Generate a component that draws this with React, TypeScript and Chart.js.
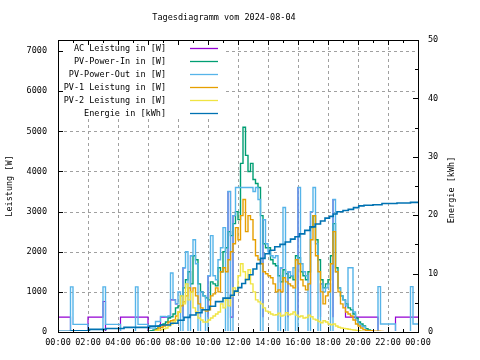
import { useEffect, useRef } from 'react';
import { Chart, registerables } from 'chart.js';

Chart.register(...registerables);

// ---------- texts ----------
const titleText = 'Tagesdiagramm vom 2024-08-04';
const leftAxisTitle = 'Leistung [W]';
const rightAxisTitle = 'Energie [kWh]';
const seriesLabels = [
  'AC Leistung in [W]',
  'PV-Power-In in [W]',
  'PV-Power-Out in [W]',
  'PV-1 Leistung in [W]',
  'PV-2 Leistung in [W]',
  'Energie in [kWh]',
];
const seriesColors = ['#9400d3', '#009e73', '#56b4e9', '#e69f00', '#f0e442', '#0072b2'];
const xTickLabels = [
  '00:00', '02:00', '04:00', '06:00', '08:00', '10:00', '12:00',
  '14:00', '16:00', '18:00', '20:00', '22:00', '00:00',
];
const xTickHours = [0, 2, 4, 6, 8, 10, 12, 14, 16, 18, 20, 22, 24];
const yTickValues = [0, 1000, 2000, 3000, 4000, 5000, 6000, 7000];
const y2TickValues = [0, 10, 20, 30, 40, 50];

// ---------- data: one value per 10-minute slot, 00:00 .. 24:00 ----------
// (null = no visible sample for that slot)
const slotMinutes = 10;
const N = null;

const acPower = [
  370, 370, 370, 370, 370, 370,
  0, 0, 0, 0, 0, 0,
  0, 370, 370, 370, 370, 370,
  370, 760, 0, 0, 0, 0,
  0, 0, 370, 370, 370, 370,
  370, 370, 370, 370, 370, 370,
  370, 0, 0, 0, 0, 0,
  370, 370, 370, 370, 800, 800,
  700, N, 370, 1600, N, 370,
  1900, N, N, 370, 1000, N,
  370, 1400, N, N, N, N,
  N, N, 1800, 3500, 370, 2900,
  N, N, N, N, N, N,
  N, N, N, N, 370, 2800,
  N, N, N, N, N, 370,
  1600, N, 370, 1500, N, N,
  370, 3600, N, N, N, 370,
  3000, N, N, 370, 1200, N,
  N, N, 370, 3300, N, N,
  N, 800, 370, 370, 370, 370,
  370, 370, 370, 370, 370, 370,
  370, 370, 370, 0, 0, 0,
  0, 0, 0, 0, 370, 370,
  370, 370, 370, 370, 370, 370,
  370,
];

const pvPowerIn = [
  N, N, N, N, N, N,
  N, N, N, N, N, N,
  N, N, N, N, N, N,
  N, N, N, N, N, N,
  N, N, N, N, N, N,
  N, N, N, N, N, N,
  0, 20, 30, 50, 80, 150,
  180, 200, 250, 350, 380, 450,
  600, 650, 900, 1100, 1300, 1500,
  1200, 1900, 1800, 1200, 1000, 900,
  850, 800, 1250, 1200, 1150, 1600,
  1500, 2000, 2100, 2500, 2400, 2700,
  3000, 2800, 4200, 5100, 4400, 4000,
  4200, 3800, 3700, 3600, 2900, 2200,
  2100, 2100, 1800, 1700, 1650, 1400,
  1250, 1550, 1450, 1350, 1400, 1300,
  1900, 1850, 1500, 1400, 1300, 1500,
  2600, 2900, 2300, 1800, 1300, 1100,
  1200, 1300, 1900, 2700, 1600, 1100,
  900, 800, 700, 600, 550, 450,
  350, 250, 200, 150, 80, 50,
  30, 10, 0, 0, 0, 0,
  N, N, N, N, N, N,
  N, N, N, N, N, N,
  N,
];

const pvPowerOut = [
  0, 0, 0, 0, 0, 0,
  1125, 190, 190, 190, 190, 190,
  190, 0, 0, 0, 0, 0,
  0, 1125, 190, 190, 190, 190,
  190, 190, 0, 0, 0, 0,
  0, 0, 1125, 190, 190, 190,
  190, 100, 100, 100, 260, 260,
  390, 390, 380, 400, 1470, 800,
  700, 1000, 0, 1600, 2000, 0,
  1900, 2300, 1700, 0, 1000, 900,
  0, 1400, 2400, 1400, 1300, 1800,
  2100, 2600, 0, 3500, 0, 2900,
  3600, 3600, 3600, 3600, 3600, 3600,
  3600, 3500, 3600, 3300, 0, 2800,
  2200, 2000, 1900, 1850, 1900, 0,
  1600, 3100, 0, 1500, 1400, 1600,
  0, 3600, 1700, 1500, 1400, 0,
  3000, 3600, 2200, 0, 1200, 1000,
  1100, 1200, 0, 3300, 1500, 1100,
  900, 800, 650, 1600, 1600, 500,
  300, 200, 150, 130, 0, 0,
  0, 0, 0, 1130, 200, 200,
  200, 200, 200, 200, 0, 0,
  0, 0, 0, 0, 1130, 200,
  200,
];

const pv1Power = [
  N, N, N, N, N, N,
  N, N, N, N, N, N,
  N, N, N, N, N, N,
  N, N, N, N, N, N,
  N, N, N, N, N, N,
  N, N, N, N, N, N,
  0, 0, 0, 0, 50, 100,
  120, 150, 180, 250, 280, 300,
  400, 500, 650, 750, 900, 1100,
  1000, 1100, 900, 700, 600, 550,
  520, 550, 900, 950, 1100, 1000,
  1500, 1600, 1500, 1800, 2000, 2200,
  2600, 2300, 2900, 3300, 2500, 2900,
  2800, 2300, 1900, 1800, 1700, 1500,
  1450, 1400, 1350, 1200, 1000, 1050,
  1000, 1350, 1250, 1200, 1150, 1100,
  1800, 1700, 1300, 1150, 1050, 1200,
  2300, 2900, 1900, 1500, 1000, 700,
  900, 1000, 1700, 2500, 1500, 1000,
  700, 600, 500, 450, 400, 300,
  200, 150, 100, 60, 40, 30,
  30, 20, 20, 20, 15, 10,
  0, N, N, N, N, N,
  N, N, N, N, N, N,
  N,
];

const pv2Power = [
  N, N, N, N, N, N,
  N, N, N, N, N, N,
  N, N, N, N, N, N,
  N, N, N, N, N, N,
  N, N, N, N, N, N,
  N, N, N, N, N, N,
  0, 0, 0, 0, 30, 50,
  60, 80, 100, 150, 200, 250,
  300, 500, 900, 700, 1200, 800,
  1000, 600, 500, 350, 300, 250,
  250, 300, 350, 400, 450, 500,
  700, 600, 800, 650, 900, 1100,
  1000, 1400, 1700, 1500, 1300, 1550,
  1200, 1000, 800, 750, 700, 600,
  520, 500, 450, 420, 430, 470,
  400, 420, 480, 430, 450, 500,
  420, 380, 400, 350, 360, 420,
  380, 320, 300, 260, 230, 280,
  250, 200, 180, 200, 150, 120,
  100, 90, 80, 70, 60, 50,
  40, 30, 20, 10, 0, 0,
  0, N, N, N, N, N,
  N, N, N, N, N, N,
  N, N, N, N, N, N,
  N,
];

const energyHours = [
  0, 0.9, 2.1, 3.2, 4.4, 6.1, 6.8, 7.5, 8.0, 8.4, 8.8, 9.2, 9.6, 10.1, 10.5,
  11.0, 11.5, 11.75, 12.0, 12.25, 12.5, 12.75, 13.0, 13.25, 13.5, 13.8, 14.1,
  14.45, 14.8, 15.15, 15.5, 15.8, 16.1, 16.45, 16.8, 17.15, 17.5, 17.8, 18.1,
  18.35, 18.6, 19.0, 19.35, 19.7, 20.05, 20.4, 21.0, 21.6, 22.6, 23.5, 24,
];
const energyKWh = [
  0, 0.1, 0.2, 0.45, 0.6, 0.8, 1.0, 1.2, 1.5, 2.0, 2.5, 2.9, 3.3, 3.8, 4.4,
  5.2, 5.8, 6.3, 7.0, 7.6, 8.3, 9.0, 9.8, 10.8, 11.7, 12.6, 13.4,
  14.0, 14.6, 15.0, 15.4, 15.9, 16.3, 16.8, 17.4, 18.0, 18.5, 19.0, 19.5,
  19.8, 20.2, 20.6, 20.8, 21.0, 21.3, 21.6, 21.7, 21.8, 22.0, 22.1, 22.2,
];

const powerSeries = [acPower, pvPowerIn, pvPowerOut, pv1Power, pv2Power];

// ---------- styling ----------
const FONT_FAMILY = "'DejaVu Sans Mono', monospace";
const FONT_SIZE = 8.5;
const textFont = `${FONT_SIZE}px ${FONT_FAMILY}`;

const gnuplotDecor = {
  id: 'gnuplotDecor',
  beforeDatasetsDraw(chart: any) {
    const { ctx, chartArea: a, scales } = chart;
    const yS = scales.y;
    const xS = scales.x;
    ctx.save();
    ctx.strokeStyle = '#a0a0a0';
    ctx.lineWidth = 1;
    ctx.setLineDash([3, 3]);
    ctx.beginPath();
    yS.ticks.forEach((t: any) => {
      if (t.value <= 0) return;
      const py = Math.round(yS.getPixelForValue(t.value)) + 0.5;
      ctx.moveTo(a.left, py);
      ctx.lineTo(a.right, py);
    });
    xS.ticks.forEach((t: any) => {
      if (t.value <= 0 || t.value >= 24) return;
      const px = Math.round(xS.getPixelForValue(t.value)) + 0.5;
      ctx.moveTo(px, a.bottom);
      ctx.lineTo(px, a.top);
    });
    ctx.stroke();
    ctx.setLineDash([]);
    // opaque key box
    ctx.fillStyle = '#ffffff';
    ctx.fillRect(a.left + 1, a.top + 1, 164, 78);
    ctx.restore();
  },
  afterDatasetsDraw(chart: any) {
    const { ctx, chartArea: a, scales } = chart;
    const xS = scales.x;
    const yS = scales.y;
    const y2S = scales.y2;
    ctx.save();
    ctx.strokeStyle = '#000';
    ctx.lineWidth = 1;
    ctx.strokeRect(Math.round(a.left) + 0.5, Math.round(a.top) + 0.5,
      Math.round(a.right - a.left), Math.round(a.bottom - a.top));
    ctx.beginPath();
    for (let h = 1; h < 24; h++) {
      const px = Math.round(xS.getPixelForValue(h)) + 0.5;
      const len = h % 2 === 0 ? 5 : 3;
      ctx.moveTo(px, a.bottom);
      ctx.lineTo(px, a.bottom - len);
      ctx.moveTo(px, a.top);
      ctx.lineTo(px, a.top + len);
    }
    yS.ticks.forEach((t: any) => {
      if (t.value <= 0) return;
      const py = Math.round(yS.getPixelForValue(t.value)) + 0.5;
      ctx.moveTo(a.left, py);
      ctx.lineTo(a.left + 5, py);
    });
    for (let v = 5; v < 50; v += 5) {
      const py = Math.round(y2S.getPixelForValue(v)) + 0.5;
      const len = v % 10 === 0 ? 5 : 3;
      ctx.moveTo(a.right, py);
      ctx.lineTo(a.right - len, py);
    }
    ctx.stroke();

    // key
    ctx.font = textFont;
    ctx.textBaseline = 'middle';
    ctx.textAlign = 'right';
    const rowY0 = a.top + 7.5;
    const rowGap = 13;
    chart.data.datasets.forEach((ds: any, i: number) => {
      const ry = Math.round(rowY0 + i * rowGap) + 0.5;
      ctx.fillStyle = '#000';
      ctx.fillText(ds.label, a.left + 108, ry);
      ctx.strokeStyle = ds.borderColor;
      ctx.lineWidth = 1.3;
      ctx.beginPath();
      ctx.moveTo(a.left + 132, ry);
      ctx.lineTo(a.left + 160, ry);
      ctx.stroke();
    });

    // title
    ctx.fillStyle = '#000';
    ctx.textAlign = 'center';
    ctx.fillText(titleText, 224, 18);

    // axis titles
    const midY = (a.top + a.bottom) / 2;
    ctx.save();
    ctx.translate(10, midY);
    ctx.rotate(-Math.PI / 2);
    ctx.fillText(leftAxisTitle, 0, 0);
    ctx.restore();
    ctx.save();
    ctx.translate(452, midY + 4);
    ctx.rotate(-Math.PI / 2);
    ctx.fillText(rightAxisTitle, 0, 0);
    ctx.restore();

    ctx.restore();
  },
};

function toPoints(values: (number | null)[]) {
  return values.map((v, i) => ({ x: (i * slotMinutes) / 60, y: v }));
}

export default function App() {
  const canvasRef = useRef<HTMLCanvasElement | null>(null);

  useEffect(() => {
    const canvas = canvasRef.current;
    if (!canvas) return;
    const tickFont = { family: FONT_FAMILY, size: FONT_SIZE };

    const datasets: any[] = powerSeries.map((values, i) => ({
      label: seriesLabels[i],
      data: toPoints(values),
      borderColor: seriesColors[i],
      backgroundColor: seriesColors[i],
      borderWidth: i === 0 ? 1.2 : 1.4,
      stepped: 'after',
      pointRadius: 0,
      spanGaps: false,
      yAxisID: 'y',
      order: 6 - i,
      clip: { left: 0, top: 0, right: 0, bottom: -1 },
    }));
    datasets.push({
      label: seriesLabels[5],
      data: energyHours.map((h, i) => ({ x: h, y: energyKWh[i] })),
      borderColor: seriesColors[5],
      backgroundColor: seriesColors[5],
      borderWidth: 1.6,
      stepped: 'after',
      pointRadius: 0,
      yAxisID: 'y2',
      order: 1,
      clip: { left: 0, top: 0, right: 0, bottom: -1 },
    });

    const chart = new Chart(canvas, {
      type: 'line',
      data: { datasets },
      options: {
        responsive: false,
        animation: false,
        devicePixelRatio: 1,
        events: [],
        layout: { padding: { top: 40, left: 0, right: 0, bottom: 0 } },
        plugins: {
          legend: { display: false },
          tooltip: { enabled: false },
          title: { display: false },
        },
        elements: { point: { radius: 0 }, line: { tension: 0 } },
        scales: {
          x: {
            type: 'linear',
            position: 'bottom',
            min: 0,
            max: 24,
            grid: { display: false, drawTicks: false },
            border: { display: false },
            afterBuildTicks: (s: any) => { s.ticks = xTickHours.map((v) => ({ value: v })); },
            ticks: {
              autoSkip: false,
              maxRotation: 0,
              padding: 6,
              color: '#000',
              font: tickFont,
              callback: (_v: any, i: number) => xTickLabels[i],
            },
            afterFit: (s: any) => { s.height = 28; },
          },
          y: {
            type: 'linear',
            position: 'left',
            min: 0,
            max: 7275,
            grid: { display: false, drawTicks: false },
            border: { display: false },
            afterBuildTicks: (s: any) => { s.ticks = yTickValues.map((v) => ({ value: v })); },
            ticks: {
              autoSkip: false,
              padding: 11,
              color: '#000',
              font: tickFont,
              callback: (v: any) => String(v),
            },
            afterFit: (s: any) => { s.width = 58; },
          },
          y2: {
            type: 'linear',
            position: 'right',
            min: 0,
            max: 50,
            grid: { display: false, drawTicks: false },
            border: { display: false },
            afterBuildTicks: (s: any) => { s.ticks = y2TickValues.map((v) => ({ value: v })); },
            ticks: {
              autoSkip: false,
              padding: 10,
              color: '#000',
              font: tickFont,
              callback: (v: any) => String(v),
            },
            afterFit: (s: any) => { s.width = 62; },
          },
        },
      } as any,
      plugins: [gnuplotDecor],
    });
    return () => chart.destroy();
  }, []);

  return (
    <div style={{ position: 'fixed', left: 0, top: 0, width: 480, height: 360, background: '#fff' }}>
      <canvas ref={canvasRef} width={480} height={360} style={{ width: 480, height: 360, display: 'block' }} />
    </div>
  );
}
